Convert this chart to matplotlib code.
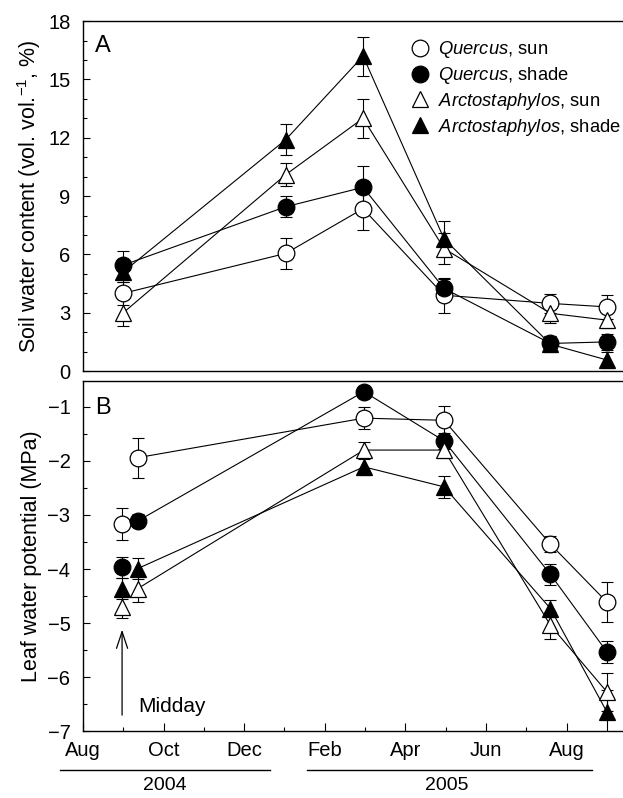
import numpy as np
import matplotlib.pyplot as plt
from matplotlib.lines import Line2D

plt.rcParams['font.family'] = ['Liberation Sans', 'DejaVu Sans']
plt.rcParams['mathtext.fontset'] = 'custom'
plt.rcParams['mathtext.rm'] = 'Liberation Sans'
plt.rcParams['mathtext.it'] = 'Liberation Sans:italic'

# x = months since 1 Aug 2004
month_ticks = [0, 2, 4, 6, 8, 10, 12]
month_labels = ['Aug', 'Oct', 'Dec', 'Feb', 'Apr', 'Jun', 'Aug']

# A: soil water content (%)
soil_x = [1.0, 5.03, 6.95, 8.96, 11.6, 13.0]
soil_q_sun = [4.0, 6.05, 8.35, 3.9, 3.48, 3.3]
soil_q_sun_err = [0.6, 0.8, 1.1, 0.9, 0.5, 0.6]
soil_q_shade = [5.45, 8.45, 9.45, 4.25, 1.42, 1.5]
soil_q_shade_err = [0.7, 0.55, 1.1, 0.5, 0.4, 0.4]
soil_a_sun = [3.0, 10.1, 13.0, 6.3, 2.97, 2.62]
soil_a_sun_err = [0.7, 0.6, 1.0, 0.8, 0.5, 0.4]
soil_a_shade = [5.1, 11.9, 16.2, 6.8, 1.38, 0.57]
soil_a_shade_err = [0.5, 0.8, 1.0, 0.9, 0.4, 0.4]

# B: leaf water potential (MPa); first point is the midday measurement
leaf_x = [0.97, 1.36, 6.97, 8.96, 11.6, 13.0]
leaf_q_sun = [-3.17, -1.94, -1.21, -1.25, -3.54, -4.61]
leaf_q_sun_err = [0.3, 0.37, 0.2, 0.27, 0.15, 0.37]
leaf_q_shade = [-3.97, -3.11, -0.72, -1.63, -4.10, -5.53]
leaf_q_shade_err = [0.2, 0.12, 0.1, 0.15, 0.2, 0.2]
leaf_a_sun = [-4.71, -4.36, -1.80, -1.80, -5.04, -6.27]
leaf_a_sun_err = [0.2, 0.25, 0.15, 0.15, 0.25, 0.35]
leaf_a_shade = [-4.36, -3.99, -2.11, -2.48, -4.73, -6.64]
leaf_a_shade_err = [0.2, 0.2, 0.15, 0.2, 0.15, 0.4]

labels = [r'$\it{Quercus}$, sun', r'$\it{Quercus}$, shade',
          r'$\it{Arctostaphylos}$, sun', r'$\it{Arctostaphylos}$, shade']
markers = ['o', 'o', '^', '^']
faces = ['white', 'black', 'white', 'black']

fig = plt.figure(figsize=(6.23, 7.98), dpi=100)
ax1 = fig.add_axes([0.1332, 0.535, 0.8668, 0.4386])
ax2 = fig.add_axes([0.1332, 0.0835, 0.8668, 0.4386])

FS = 14.5
MS = 12


def draw(ax, x, ys, errs, start):
    for y, e, m, fc, lab in zip(ys, errs, markers, faces, labels):
        ax.errorbar(x, y, yerr=e, fmt='none', ecolor='black', elinewidth=0.8,
                    capsize=4.5, capthick=0.8, zorder=2)
        ax.plot(x[start:], y[start:], '-', color='black', lw=0.8, zorder=2)
        ax.plot(x, y, linestyle='none', marker=m, ms=MS, mfc=fc, mec='black',
                mew=0.9, zorder=3, label=lab)


draw(ax1, soil_x, [soil_q_sun, soil_q_shade, soil_a_sun, soil_a_shade],
     [soil_q_sun_err, soil_q_shade_err, soil_a_sun_err, soil_a_shade_err], 0)
draw(ax2, leaf_x, [leaf_q_sun, leaf_q_shade, leaf_a_sun, leaf_a_shade],
     [leaf_q_sun_err, leaf_q_shade_err, leaf_a_sun_err, leaf_a_shade_err], 1)

for ax in (ax1, ax2):
    ax.set_xlim(0, 13.4)
    ax.spines['right'].set_visible(False)
    for s in ax.spines.values():
        s.set_linewidth(1.0)
    ax.tick_params(axis='both', which='both', direction='in', labelsize=FS)
    ax.tick_params(axis='both', which='major', length=5, width=0.8)
    ax.tick_params(axis='both', which='minor', length=3, width=0.8)
    ax.tick_params(axis='y', which='major', pad=9)

ax1.set_ylim(0, 18)
ax1.set_yticks(np.arange(0, 19, 3))
ax1.set_yticks(np.arange(0, 19, 1), minor=True)
ax1.set_xticks([])
ax1.set_ylabel('Soil water content (vol. vol.$^{-1}$, %)', fontsize=15.5, labelpad=4)
ax1.text(0.022, 0.96, 'A', transform=ax1.transAxes, fontsize=17, ha='left', va='top')
ax1.legend(loc='upper left', bbox_to_anchor=(411 / 623, 1 - 39 / 798),
           bbox_transform=fig.transFigure, frameon=False, fontsize=13.2,
           borderpad=0, handlelength=1.0, handletextpad=0.45, labelspacing=0.27,
           borderaxespad=0)

ax2.set_ylim(-7, -0.53)
ax2.set_yticks(np.arange(-7, -0.5, 1))
ax2.set_yticks(np.arange(-7, -0.5, 0.5), minor=True)
ax2.set_yticklabels(['\u2212%d' % abs(v) for v in np.arange(-7, -0.5, 1)])
ax2.set_xticks(month_ticks)
ax2.set_xticklabels(month_labels)
ax2.set_xticks(np.arange(1, 13, 2), minor=True)
ax2.tick_params(axis='x', which='major', length=6, pad=7)
ax2.set_ylabel('Leaf water potential (MPa)', fontsize=15.5, labelpad=4)
ax2.text(0.022, 0.955, 'B', transform=ax2.transAxes, fontsize=17, ha='left', va='top')

# midday arrow
ax2.annotate('', xy=(leaf_x[0], -5.12), xytext=(leaf_x[0], -6.7),
             arrowprops=dict(arrowstyle='->, head_length=0.6, head_width=0.2',
                             color='black', lw=0.9, mutation_scale=20,
                             shrinkA=0, shrinkB=0))
ax2.text(1.37, -6.54, 'Midday', fontsize=15, ha='left', va='center')

# year brackets below the axis
tr = ax2.get_xaxis_transform()
for x0, x1, xt, yr in [(-0.57, 4.64, 2.03, '2004'), (5.56, 12.63, 9.03, '2005')]:
    ax2.add_line(Line2D([x0, x1], [-0.111, -0.111], transform=tr, color='black',
                        lw=1.0, clip_on=False))
    ax2.text(xt, -0.154, yr, transform=tr, fontsize=14, ha='center', va='center',
             clip_on=False)

fig.savefig('out.png', dpi=100)
